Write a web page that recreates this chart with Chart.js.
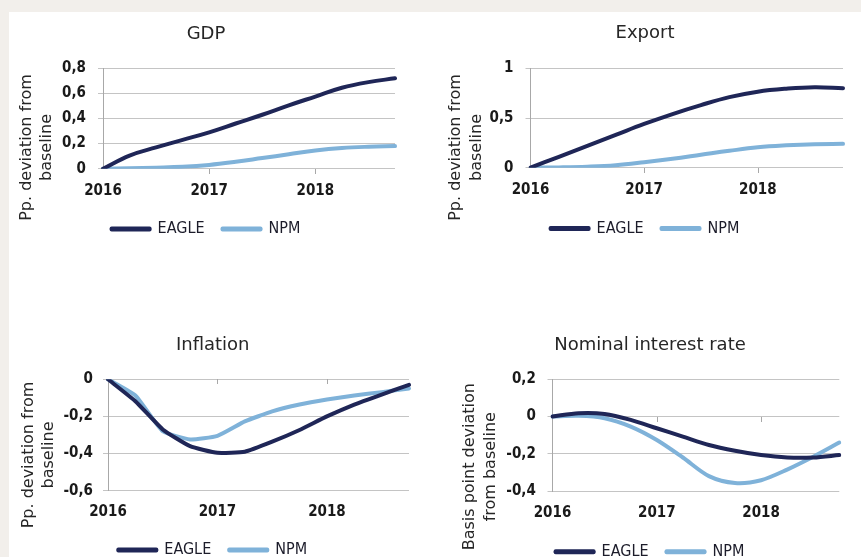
<!DOCTYPE html>
<html>
<head>
<meta charset="utf-8">
<script src="https://cdn.jsdelivr.net/npm/chart.js@4"></script>
<style>
  body { margin:0; width:861px; height:557px; overflow:hidden; background:#f2efeb; position:relative; }
  #sheet { position:absolute; left:9px; top:12px; width:852px; height:545px; background:#fff; }
  canvas { position:absolute; }
</style>
</head>
<body>
<div id="sheet"></div>
<canvas id="gdp" width="430" height="280" style="left:0;top:0"></canvas>
<canvas id="export" width="431" height="280" style="left:430px;top:0"></canvas>
<canvas id="inflation" width="430" height="300" style="left:0;top:280px"></canvas>
<canvas id="rate" width="431" height="300" style="left:430px;top:280px"></canvas>
<script>
// ---------------- Data ----------------
const quarters = ['2016Q1','2016Q2','2016Q3','2016Q4','2017Q1','2017Q2','2017Q3','2017Q4','2018Q1','2018Q2','2018Q3','2018Q4'];
const seriesNames = ['EAGLE', 'NPM'];

const gdpEagle = [0, 0.105, 0.17, 0.23, 0.29, 0.36, 0.43, 0.505, 0.575, 0.645, 0.69, 0.72];
const gdpNpm   = [0, 0.003, 0.008, 0.015, 0.03, 0.055, 0.085, 0.115, 0.145, 0.165, 0.175, 0.18];

const exportEagle = [0, 0.11, 0.22, 0.33, 0.44, 0.54, 0.63, 0.71, 0.765, 0.795, 0.81, 0.80];
const exportNpm   = [0, 0.003, 0.01, 0.025, 0.055, 0.09, 0.13, 0.17, 0.205, 0.225, 0.237, 0.24];

const inflEagle = [0, -0.118, -0.27, -0.36, -0.396, -0.39, -0.336, -0.273, -0.2, -0.136, -0.082, -0.03];
const inflNpm   = [0, -0.087, -0.28, -0.324, -0.305, -0.227, -0.173, -0.136, -0.109, -0.087, -0.069, -0.049];

const rateEagle = [0, 0.018, 0.014, -0.018, -0.063, -0.108, -0.153, -0.184, -0.207, -0.22, -0.22, -0.207];
const rateNpm   = [0, 0.004, -0.009, -0.054, -0.126, -0.22, -0.32, -0.357, -0.342, -0.285, -0.216, -0.14];

// y axis ranges: [min, max, step]
const gdpRange    = [0, 0.8, 0.2];
const exportRange = [0, 1, 0.5];
const inflRange   = [-0.6, 0, 0.2];
const rateRange   = [-0.4, 0.2, 0.2];

// ---------------- Styling ----------------
const darkBlue = '#1f2657';
const lightBlue = '#7fb2d9';
const textColor = '#262626';
const LP = 18; // legend padding

Chart.defaults.font.family = '"DejaVu Sans"';
Chart.defaults.color = textColor;

const tickFont = { family: '"DejaVu Sans Condensed"', weight: 'bold', size: 15 };

function fmt(v){
    const r = Math.round(v * 10) / 10;
    return r === 0 ? '0' : String(r).replace('.', ',');
}

// rotated two-line y title
const sideTitle = {
    id: 'sideTitle',
    afterDraw(chart, args, opts){
        const ctx = chart.ctx;
        ctx.save();
        ctx.font = '16px "DejaVu Sans"';
        ctx.fillStyle = textColor;
        ctx.textAlign = 'center';
        ctx.textBaseline = 'middle';
        opts.lines.forEach((t, i) => {
            ctx.save();
            ctx.translate(opts.x[i], opts.cy);
            ctx.rotate(-Math.PI / 2);
            ctx.fillText(t, 0, 0);
            ctx.restore();
        });
        ctx.restore();
    }
};

// small tick marks on the zero line at each new year
const yearTicks = {
    id: 'yearTicks',
    beforeDatasetsDraw(chart){
        const {ctx, scales:{x, y}} = chart;
        const y0 = y.getPixelForValue(0);
        ctx.save();
        ctx.strokeStyle = '#a8a8a8';
        ctx.lineWidth = 1;
        quarters.forEach((q, i) => {
            if(i === 0 || !q.endsWith('Q1')) return;
            const px = Math.round(x.getPixelForValue(i)) + 0.5;
            ctx.beginPath();
            ctx.moveTo(px, Math.round(y0));
            ctx.lineTo(px, Math.round(y0) + 5);
            ctx.stroke();
        });
        ctx.restore();
    }
};

function makeChart(id, title, eagle, npm, range, p){
    const padL = 2 * p.center - p.right;
    const xHeight = p.legendY - p.bottom - LP - 8;
    const mk = (label, data, color) => ({
        label, data, borderColor: color, backgroundColor: color,
        borderWidth: 4, pointRadius: 0, tension: p.tension,
        borderCapStyle: 'round', borderJoinStyle: 'round'
    });
    return new Chart(document.getElementById(id), {
        type: 'line',
        data: { labels: quarters, datasets: [mk(seriesNames[0], eagle, darkBlue), mk(seriesNames[1], npm, lightBlue)] },
        plugins: [sideTitle, yearTicks],
        options: {
            responsive: false,
            animation: false,
            layout: { padding: { left: padL, right: p.w - p.right, top: 0, bottom: p.h - p.legendY - 18 } },
            plugins: {
                title: { display: true, text: title, color: textColor, font: { size: 18, weight: 'normal' },
                    padding: { top: p.titleY - 10.8, bottom: p.top - p.titleY - 10.8 } },
                legend: { position: 'bottom', labels: { boxWidth: 38, boxHeight: 1, padding: LP, color: '#1c1c2a',
                    font: { family: '"DejaVu Sans Condensed"', size: 16 } } },
                tooltip: { enabled: false },
                sideTitle: p.side
            },
            scales: {
                x: {
                    grid: { display: false, drawTicks: false },
                    border: { display: false },
                    ticks: { autoSkip: false, maxRotation: 0, padding: p.labelY - p.bottom - 9, color: '#1a1a1a', font: tickFont,
                        callback: (v, i) => quarters[i].endsWith('Q1') ? quarters[i].slice(0, 4) : '' },
                    afterFit: s => { s.height = xHeight; }
                },
                y: {
                    min: range[0], max: range[1],
                    ticks: { stepSize: range[2], callback: fmt, padding: p.yPad, color: '#1a1a1a', font: tickFont },
                    grid: { color: '#c4c4c4', tickLength: 5 },
                    border: { color: '#a8a8a8' },
                    afterFit: s => { s.width = p.left - padL; }
                }
            }
        }
    });
}

makeChart('gdp', 'GDP', gdpEagle, gdpNpm, gdpRange,
    { w:430, h:280, left:103, right:395, top:68.3, bottom:168.7, center:206, titleY:34, labelY:191.5, legendY:229, yPad:12, tension:0.4,
      side:{ lines:['Pp. deviation from','baseline'], x:[26.7,47], cy:147.5 } });

makeChart('export', 'Export', exportEagle, exportNpm, exportRange,
    { w:431, h:280, left:100.5, right:413, top:68.3, bottom:167.7, center:215, titleY:33.5, labelY:190.5, legendY:228.5, yPad:12, tension:0.4,
      side:{ lines:['Pp. deviation from','baseline'], x:[26,47], cy:147.5 } });

makeChart('inflation', 'Inflation', inflEagle, inflNpm, inflRange,
    { w:430, h:300, left:108, right:409, top:99.3, bottom:210.7, center:212.7, titleY:65, labelY:231.7, legendY:270, yPad:10, tension:0.15,
      side:{ lines:['Pp. deviation from','baseline'], x:[29,48.5], cy:175 } });

makeChart('rate', 'Nominal interest rate', rateEagle, rateNpm, rateRange,
    { w:431, h:300, left:122.5, right:409.3, top:99.3, bottom:211, center:220, titleY:65, labelY:233.3, legendY:271.7, yPad:11.7, tension:0.3,
      side:{ lines:['Basis point deviation','from baseline'], x:[39.5,60.5], cy:186.7 } });
</script>
</body>
</html>
